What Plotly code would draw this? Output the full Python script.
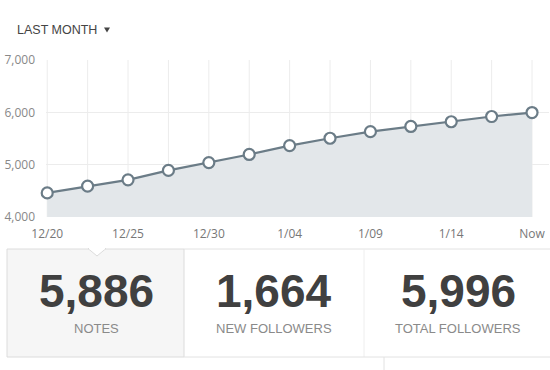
import plotly.graph_objects as go

# ---- data ----
dates = ["12/20", "12/22", "12/25", "12/27", "12/30", "1/01", "1/04",
         "1/06", "1/09", "1/11", "1/14", "1/16", "Now"]
followers = [4460, 4590, 4710, 4890, 5040, 5195, 5365, 5505, 5630, 5730, 5820, 5920, 5996]
tick_labels = ["12/20", "12/25", "12/30", "1/04", "1/09", "1/14", "Now"]
y_ticks = [4000, 5000, 6000, 7000]
y_tick_labels = ["4,000", "5,000", "6,000", "7,000"]
stat_values = ["5,886", "1,664", "5,996"]
stat_labels = ["NOTES", "NEW FOLLOWERS", "TOTAL FOLLOWERS"]
period_label = "LAST MONTH"

# ---- layout geometry (pixels) ----
W, H = 550, 370
L, R, T, B = 46, 1, 60, 153
PW, PH = W - L - R, H - T - B

def fx(px):
    return (px - L) / PW

def fy(py):
    return (H - B - py) / PH

narrow = "Liberation Sans Narrow, Arial Narrow, Liberation Sans, Arial, sans-serif"
tickfont = "Open Sans, DejaVu Sans, sans-serif"

idx = list(range(len(dates)))

fig = go.Figure()
fig.add_trace(go.Scatter(
    x=idx, y=followers, mode="lines+markers",
    fill="tozeroy", fillcolor="#e3e7ea",
    line=dict(color="#6b7c87", width=2.2),
    marker=dict(size=11, color="white", line=dict(color="#6b7c87", width=2.2)),
    hoverinfo="skip", cliponaxis=False,
))

tick_positions = [dates.index(t) for t in tick_labels]

fig.update_layout(
    width=W, height=H,
    margin=dict(l=L, r=R, t=T, b=B),
    paper_bgcolor="white", plot_bgcolor="white",
    showlegend=False,
    xaxis=dict(
        range=[-0.03, 12.42], tickmode="array", tickvals=tick_positions,
        ticktext=tick_labels, showgrid=False, zeroline=False, showline=False,
        tickfont=dict(family=tickfont, size=12, color="#777"),
        ticks="", ticklabelstandoff=8, fixedrange=True,
    ),
    yaxis=dict(
        range=[4000, 7000], tickmode="array", tickvals=y_ticks,
        ticktext=y_tick_labels, showgrid=True, gridcolor="#ececec",
        zeroline=False, showline=False,
        tickfont=dict(family=tickfont, size=12, color="#888"),
        ticks="", ticklabelstandoff=10, fixedrange=True,
    ),
)

shapes = []
# vertical gridlines at each point
for i in idx:
    shapes.append(dict(type="line", xref="x", yref="paper", x0=i, x1=i, y0=0, y1=1,
                       line=dict(color="#ececec", width=1), layer="below"))

# stat boxes
line_c = "#e2e2e2"
shapes.append(dict(type="rect", xref="paper", yref="paper",
                   x0=fx(7), x1=fx(184), y0=fy(357), y1=fy(249),
                   fillcolor="#f6f6f6", line=dict(color="#dcdcdc", width=1)))
shapes.append(dict(type="path", xref="paper", yref="paper",
                   path=f"M {fx(88)},{fy(248.5)} L {fx(97)},{fy(256)} L {fx(106)},{fy(248.5)} Z",
                   fillcolor="white", line=dict(color="#dcdcdc", width=1)))
shapes.append(dict(type="line", xref="paper", yref="paper",
                   x0=fx(89), x1=fx(105), y0=fy(248.5), y1=fy(248.5),
                   line=dict(color="white", width=1.5)))
shapes.append(dict(type="line", xref="paper", yref="paper",
                   x0=fx(184), x1=fx(550), y0=fy(249), y1=fy(249),
                   line=dict(color=line_c, width=1)))
shapes.append(dict(type="line", xref="paper", yref="paper",
                   x0=fx(364), x1=fx(364), y0=fy(249), y1=fy(357),
                   line=dict(color="#eeeeee", width=1)))
shapes.append(dict(type="line", xref="paper", yref="paper",
                   x0=fx(184), x1=fx(550), y0=fy(357), y1=fy(357),
                   line=dict(color=line_c, width=1)))
shapes.append(dict(type="line", xref="paper", yref="paper",
                   x0=fx(384), x1=fx(384), y0=fy(357), y1=fy(372),
                   line=dict(color=line_c, width=1)))
# small dropdown triangle next to the period label
shapes.append(dict(type="path", xref="paper", yref="paper",
                   path=f"M {fx(104)},{fy(27.5)} L {fx(110)},{fy(27.5)} L {fx(107)},{fy(32.5)} Z",
                   fillcolor="#444", line=dict(width=0)))
fig.update_layout(shapes=shapes)

annotations = [dict(
    text=period_label, xref="paper", yref="paper", x=fx(15), y=fy(30),
    xanchor="left", yanchor="middle", showarrow=False,
    font=dict(family=narrow, size=12.5, color="#444"),
)]
centers = [96, 274, 458]
for cx, val, lab in zip(centers, stat_values, stat_labels):
    annotations.append(dict(
        text=f"<b>{val}</b>", xref="paper", yref="paper", x=fx(cx), y=fy(291),
        xanchor="center", yanchor="middle", showarrow=False,
        font=dict(family=narrow, size=46, color="#404040"),
    ))
    annotations.append(dict(
        text=lab, xref="paper", yref="paper", x=fx(cx), y=fy(328),
        xanchor="center", yanchor="middle", showarrow=False,
        font=dict(family=narrow, size=13, color="#8a8a8a"),
    ))
fig.update_layout(annotations=annotations)

fig.write_html("out.html", config={"displayModeBar": False},
               post_script="document.body.style.margin='0px';")
